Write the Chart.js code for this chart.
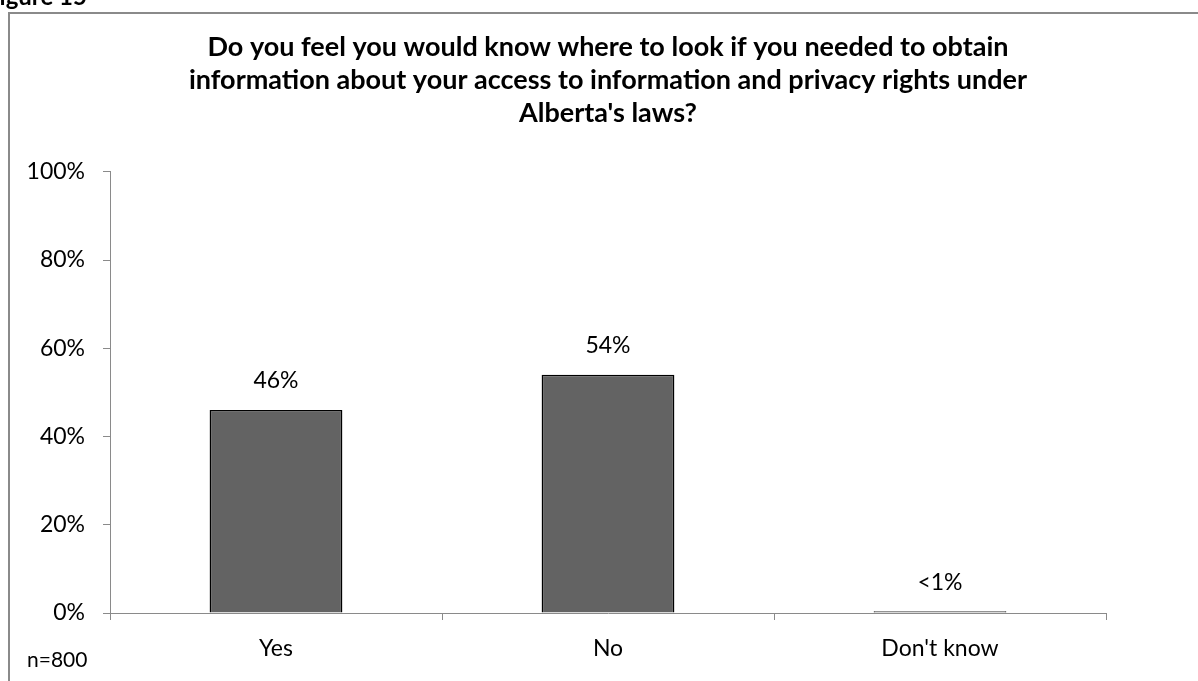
<!DOCTYPE html>
<html>
<head>
<meta charset="utf-8">
<script src="https://cdn.jsdelivr.net/npm/chart.js@4/dist/chart.umd.min.js"></script>
<style>
  html, body { margin: 0; padding: 0; background: #fff; }
  #wrap { width: 1198px; height: 681px; position: relative; }
</style>
</head>
<body>
<div id="wrap"><canvas id="fig15"></canvas></div>
<script>
const categories = ['Yes', 'No', "Don't know"];
const values = [46, 54, 0.4];
const valueLabels = ['46%', '54%', '<1%'];
const yTicks = [0, 20, 40, 60, 80, 100];
const titleLines = [
  'Do you feel you would know where to look if you needed to obtain',
  'information about your access to information and privacy rights under',
  "Alberta's laws?"
];
const figureLabel = 'Figure 15';
const sampleNote = 'n=800';

const FONT = 'Lato, "Open Sans", sans-serif';

// frame, figure caption, sample size and value labels
const extras = {
  id: 'extras',
  afterDraw(chart) {
    const c = chart.ctx;
    c.save();
    c.strokeStyle = '#8a8a8a';
    c.lineWidth = 2;
    c.beginPath();
    c.moveTo(9, 681);
    c.lineTo(9, 13);
    c.lineTo(1198, 13);
    c.stroke();

    c.fillStyle = '#000';
    c.font = 'bold 24px ' + FONT;
    c.textBaseline = 'alphabetic';
    c.textAlign = 'left';
    c.fillText(figureLabel, -14, 5);

    c.font = '21px ' + FONT;
    c.textBaseline = 'middle';
    c.fillText(sampleNote, 27, 660);

    c.font = '23px ' + FONT;
    c.textAlign = 'center';
    c.textBaseline = 'middle';
    const meta = chart.getDatasetMeta(0);
    meta.data.forEach((bar, i) => {
      c.fillText(valueLabels[i], bar.x, bar.y - 29);
    });
    c.restore();
  }
};

new Chart(document.getElementById('fig15'), {
  type: 'bar',
  data: {
    labels: categories,
    datasets: [{
      data: values,
      backgroundColor: '#636363',
      borderColor: '#000',
      borderWidth: 1.5,
      barPercentage: 0.4,
      categoryPercentage: 1
    }]
  },
  options: {
    responsive: true,
    maintainAspectRatio: false,
    animation: false,
    layout: { padding: { left: 10, right: 92, top: 0, bottom: 0 } },
    plugins: {
      legend: { display: false },
      tooltip: { enabled: false },
      title: {
        display: true,
        fullSize: false,
        text: titleLines,
        color: '#000',
        font: { family: FONT, size: 27, weight: 'bold', lineHeight: 1.22 },
        padding: { top: 31, bottom: 42 }
      }
    },
    scales: {
      y: {
        min: 0,
        max: 100,
        afterFit: (s) => { s.width = 100; },
        afterBuildTicks: (s) => { s.ticks = yTicks.map(v => ({ value: v })); },
        ticks: {
          color: '#000',
          padding: 18,
          font: { family: FONT, size: 23 },
          callback: (v) => v + '%'
        },
        grid: { drawOnChartArea: false, tickLength: 7, color: '#8a8a8a' },
        border: { color: '#8a8a8a', width: 1 }
      },
      x: {
        afterFit: (s) => { s.height = 68; },
        ticks: {
          color: '#000',
          padding: 15,
          font: { family: FONT, size: 23 }
        },
        grid: { drawOnChartArea: false, tickLength: 7, color: '#8a8a8a', offset: true },
        border: { color: '#8a8a8a', width: 1 }
      }
    }
  },
  plugins: [extras]
});
</script>
</body>
</html>
